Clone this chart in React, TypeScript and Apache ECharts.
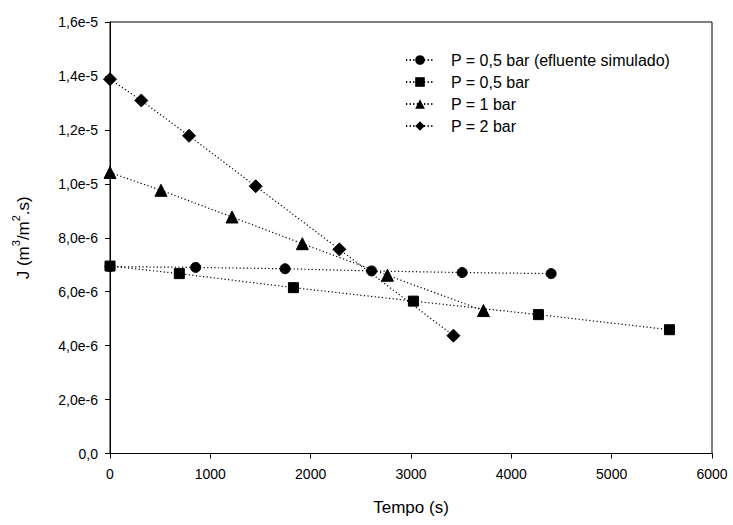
import React, { useEffect, useRef } from "react";
import * as echarts from "echarts";

const seriesNames = [
  "P = 0,5 bar (efluente simulado)",
  "P = 0,5 bar",
  "P = 1 bar",
  "P = 2 bar",
];
const symbols = ["circle", "rect", "triangle", "diamond"];
const symbolSizes = [10, 10, 12, 13];

// tempo (s)
const tempoEfluente = [0, 854, 1745, 2607, 3510, 4397];
const tempo05 = [0, 691, 1828, 3024, 4270, 5576];
const tempo1 = [0, 508, 1216, 1917, 2765, 3722];
const tempo2 = [0, 312, 788, 1452, 2286, 3423];

// J (m3/m2.s)
const jEfluente = [6.93e-6, 6.9e-6, 6.85e-6, 6.77e-6, 6.71e-6, 6.67e-6];
const j05 = [6.95e-6, 6.67e-6, 6.15e-6, 5.65e-6, 5.15e-6, 4.59e-6];
const j1 = [1.042e-5, 9.76e-6, 8.77e-6, 7.78e-6, 6.61e-6, 5.3e-6];
const j2 = [1.388e-5, 1.309e-5, 1.178e-5, 9.91e-6, 7.57e-6, 4.37e-6];

const xs = [tempoEfluente, tempo05, tempo1, tempo2];
const ys = [jEfluente, j05, j1, j2];

function fmtY(v: number): string {
  if (Math.abs(v) < 1e-12) return "0,0";
  const e = Math.floor(Math.log10(v) + 1e-9);
  const m = v / Math.pow(10, e);
  return m.toFixed(1).replace(".", ",") + "e" + e;
}

export default function App() {
  const ref = useRef<HTMLDivElement>(null);
  useEffect(() => {
    if (!ref.current) return;
    const chart = echarts.init(ref.current, undefined, { renderer: "svg" });
    const font = "Liberation Sans, Arial, sans-serif";
    const dotted = { type: [1.2, 2.4] as any, width: 1.2, color: "#000" };
    chart.setOption({
      animation: false,
      backgroundColor: "#fff",
      textStyle: { fontFamily: font },
      grid: {
        left: 110,
        right: 21,
        top: 22,
        bottom: 71.5,
        show: true,
        borderColor: "#000",
        borderWidth: 1,
      },
      legend: {
        orient: "vertical",
        left: 400,
        top: 47,
        itemWidth: 28,
        itemHeight: 12,
        itemGap: 6,
        textStyle: { fontFamily: font, fontSize: 16, color: "#000", padding: [0, 0, 0, 12] },
        data: seriesNames,
      },
      xAxis: {
        type: "value",
        min: 0,
        max: 6000,
        interval: 1000,
        name: "Tempo (s)",
        nameLocation: "middle",
        nameGap: 45,
        nameTextStyle: { fontFamily: font, fontSize: 17, color: "#000" },
        axisLine: { show: true, lineStyle: { color: "#000", width: 1 } },
        axisTick: { show: true, length: 5, lineStyle: { color: "#000" } },
        axisLabel: {
          margin: 13,
          fontFamily: font,
          fontSize: 14,
          color: "#000",
          formatter: (v: number) => String(v),
        },
        splitLine: { show: false },
      },
      yAxis: {
        type: "value",
        min: 0,
        max: 1.6e-5,
        interval: 2e-6,
        name: "{n|J (m}{s|3}{n|/m}{s|2}{n|.s)}",
        nameLocation: "middle",
        nameGap: 78,
        nameRotate: 90,
        nameTextStyle: {
          fontFamily: font,
          color: "#000",
          rich: {
            n: { fontFamily: font, fontSize: 17, color: "#000", verticalAlign: "bottom", lineHeight: 22 },
            s: { fontFamily: font, fontSize: 11, color: "#000", verticalAlign: "top", lineHeight: 14 },
          },
        },
        axisLine: { show: true, lineStyle: { color: "#000", width: 1 } },
        axisTick: { show: true, length: 5, lineStyle: { color: "#000" } },
        axisLabel: {
          margin: 12,
          fontFamily: font,
          fontSize: 14,
          color: "#000",
          formatter: (v: number) => fmtY(v),
        },
        splitLine: { show: false },
      },
      series: seriesNames.map((name, i) => ({
        name,
        type: "line",
        data: xs[i].map((x, k) => [x, ys[i][k]]),
        symbol: symbols[i],
        symbolSize: symbolSizes[i],
        showAllSymbol: true,
        itemStyle: { color: "#000", borderColor: "#000" },
        lineStyle: dotted,
        z: 2,
      })),
    });
    return () => chart.dispose();
  }, []);
  return (
    <div
      ref={ref}
      style={{ position: "fixed", left: 0, top: 0, width: 733, height: 525, background: "#fff" }}
    />
  );
}
